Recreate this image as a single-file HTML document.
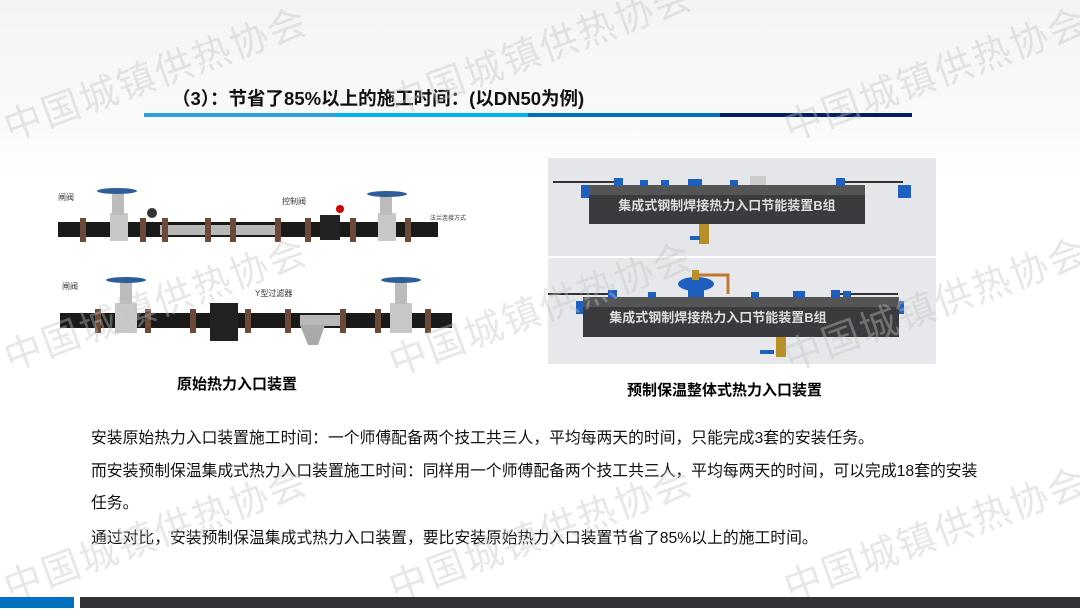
<!DOCTYPE html>
<html><head><meta charset="utf-8"><style>
*{margin:0;padding:0;box-sizing:border-box}
body{width:1080px;height:608px;overflow:hidden;background:#fff;position:relative;font-family:"Liberation Sans","Noto Sans CJK SC",sans-serif}
.abs{position:absolute}
.wm{position:absolute;color:rgba(195,195,195,0.4);font-size:38px;transform:rotate(-20deg);white-space:nowrap;transform-origin:left top;letter-spacing:2px}
.p{position:absolute;left:91px;font-size:15.8px;color:#111;white-space:nowrap}
.cap{position:absolute;font-size:15px;font-weight:bold;color:#000;white-space:nowrap}
</style></head><body>
<div class="abs" style="left:0;top:0;width:1080px;height:180px;background:linear-gradient(#f4f4f4,#fafafa 70%,#fff)"></div>

<div class="abs" style="left:172px;top:85px;font-size:18.5px;font-weight:bold;color:#111;white-space:nowrap">（3）：节省了85%以上的施工时间：(以DN50为例)</div>
<div class="abs" style="left:144px;top:113px;width:192px;height:4px;background:#2aa0dc"></div>
<div class="abs" style="left:336px;top:113px;width:192px;height:4px;background:#00b0f0"></div>
<div class="abs" style="left:528px;top:113px;width:192px;height:4px;background:#0070c0"></div>
<div class="abs" style="left:720px;top:113px;width:192px;height:4px;background:#002060"></div>

<!-- left image -->
<svg class="abs" style="left:50px;top:175px" width="430" height="180">
<g>
<rect x="8" y="47" width="380" height="15" fill="#1a1a1a"/>
<rect x="110" y="50" width="120" height="10" fill="#b8b8b8"/>
<rect x="60" y="38" width="18" height="28" fill="#c8c8c8"/>
<rect x="328" y="38" width="18" height="28" fill="#c8c8c8"/>
<rect x="270" y="40" width="20" height="25" fill="#222"/>
<rect x="62" y="18" width="12" height="22" fill="#bbb"/>
<rect x="330" y="18" width="12" height="22" fill="#bbb"/>
<ellipse cx="67" cy="16" rx="20" ry="3" fill="#2e5d9a"/>
<ellipse cx="337" cy="19" rx="20" ry="3" fill="#2e5d9a"/>
<circle cx="290" cy="34" r="4" fill="#c00"/>
<circle cx="102" cy="38" r="5" fill="#333"/>
<g fill="#6b4a3a"><rect x="30" y="43" width="6" height="24"/><rect x="90" y="43" width="6" height="24"/><rect x="112" y="43" width="6" height="24"/><rect x="155" y="43" width="6" height="24"/><rect x="180" y="43" width="6" height="24"/><rect x="225" y="43" width="6" height="24"/><rect x="255" y="43" width="6" height="24"/><rect x="300" y="43" width="6" height="24"/><rect x="355" y="43" width="6" height="24"/></g>
<text x="8" y="25" font-size="8" fill="#333">闸阀</text>
<text x="232" y="29" font-size="8" fill="#333">控制阀</text>
<text x="380" y="45" font-size="6" fill="#333">法兰连接方式</text>
</g>
<g>
<rect x="10" y="138" width="392" height="15" fill="#1a1a1a"/>
<rect x="250" y="140" width="40" height="11" fill="#b8b8b8"/>
<rect x="65" y="128" width="22" height="30" fill="#c8c8c8"/>
<rect x="340" y="128" width="22" height="30" fill="#c8c8c8"/>
<rect x="160" y="128" width="28" height="38" fill="#222"/>
<rect x="70" y="107" width="12" height="22" fill="#bbb"/>
<rect x="345" y="107" width="12" height="22" fill="#bbb"/>
<ellipse cx="76" cy="105" rx="20" ry="3" fill="#2e5d9a"/>
<ellipse cx="351" cy="105" rx="20" ry="3" fill="#2e5d9a"/>
<polygon points="250,150 275,150 268,170 258,170" fill="#aaa"/>
<g fill="#6b4a3a"><rect x="45" y="134" width="6" height="24"/><rect x="95" y="134" width="6" height="24"/><rect x="140" y="134" width="6" height="24"/><rect x="195" y="134" width="6" height="24"/><rect x="235" y="134" width="6" height="24"/><rect x="290" y="134" width="6" height="24"/><rect x="325" y="134" width="6" height="24"/><rect x="375" y="134" width="6" height="24"/></g>
<text x="12" y="114" font-size="8" fill="#333">闸阀</text>
<text x="205" y="121" font-size="8" fill="#333">Y型过滤器</text>
</g>
</svg>

<!-- right image -->
<svg class="abs" style="left:548px;top:158px" width="388" height="206">
<rect x="0" y="0" width="388" height="98" fill="#e4e6ea"/>
<rect x="0" y="100" width="388" height="106" fill="#e6e8ec"/>
<rect x="33" y="27" width="13" height="13" fill="#1f5fbf"/>
<rect x="350" y="27" width="13" height="13" fill="#1f5fbf"/>
<rect x="41" y="27" width="276" height="39" fill="#3a3b3e"/>
<rect x="41" y="27" width="276" height="10" fill="#555"/>
<line x1="5" y1="24" x2="70" y2="24" stroke="#333" stroke-width="2"/>
<line x1="290" y1="24" x2="355" y2="24" stroke="#333" stroke-width="2"/>
<g fill="#1f5fbf"><rect x="66" y="20" width="9" height="8"/><rect x="92" y="22" width="8" height="6"/><rect x="113" y="22" width="8" height="6"/><rect x="140" y="21" width="14" height="7"/><rect x="182" y="22" width="8" height="6"/><rect x="288" y="20" width="9" height="8"/></g>
<rect x="202" y="18" width="16" height="9" fill="#ccc"/>
<rect x="151" y="66" width="10" height="20" fill="#b8902a"/>
<rect x="142" y="78" width="10" height="4" fill="#1f5fbf"/>
<text x="179" y="52" font-size="13" font-weight="bold" fill="#ddd" text-anchor="middle">集成式钢制焊接热力入口节能装置B组</text>
<rect x="28" y="143" width="13" height="13" fill="#1f5fbf"/>
<rect x="343" y="143" width="13" height="13" fill="#1f5fbf"/>
<rect x="35" y="139" width="316" height="40" fill="#3a3b3e"/>
<rect x="35" y="139" width="316" height="10" fill="#555"/>
<line x1="0" y1="136" x2="65" y2="136" stroke="#333" stroke-width="2"/>
<line x1="285" y1="136" x2="350" y2="136" stroke="#333" stroke-width="2"/>
<ellipse cx="148" cy="126" rx="18" ry="7" fill="#1f5fbf"/>
<rect x="140" y="126" width="16" height="13" fill="#1f5fbf"/>
<rect x="144" y="112" width="7" height="10" fill="#b8902a"/>
<path d="M150 117 H180 V136" stroke="#c07a30" stroke-width="3" fill="none"/>
<g fill="#1f5fbf"><rect x="60" y="132" width="9" height="8"/><rect x="100" y="134" width="8" height="6"/><rect x="203" y="134" width="8" height="6"/><rect x="245" y="133" width="12" height="7"/><rect x="295" y="133" width="8" height="6"/><rect x="283" y="132" width="9" height="8"/></g>
<rect x="228" y="179" width="10" height="20" fill="#b8902a"/>
<rect x="212" y="192" width="14" height="4" fill="#1f5fbf"/>
<text x="170" y="164" font-size="13" font-weight="bold" fill="#ddd" text-anchor="middle">集成式钢制焊接热力入口节能装置B组</text>
</svg>

<div class="cap" style="left:177px;top:373px">原始热力入口装置</div>
<div class="cap" style="left:627px;top:379px">预制保温整体式热力入口装置</div>

<div class="p" style="top:425px">安装原始热力入口装置施工时间：一个师傅配备两个技工共三人，平均每两天的时间，只能完成3套的安装任务。</div>
<div class="p" style="top:458px">而安装预制保温集成式热力入口装置施工时间：同样用一个师傅配备两个技工共三人，平均每两天的时间，可以完成18套的安装</div>
<div class="p" style="top:490px">任务。</div>
<div class="p" style="top:525px">通过对比，安装预制保温集成式热力入口装置，要比安装原始热力入口装置节省了85%以上的施工时间。</div>

<div class="wm" style="left:-5px;top:100px">中国城镇供热协会</div>
<div class="wm" style="left:380px;top:75px">中国城镇供热协会</div>
<div class="wm" style="left:775px;top:100px">中国城镇供热协会</div>
<div class="wm" style="left:-5px;top:330px">中国城镇供热协会</div>
<div class="wm" style="left:380px;top:335px">中国城镇供热协会</div>
<div class="wm" style="left:775px;top:330px">中国城镇供热协会</div>
<div class="wm" style="left:-5px;top:560px">中国城镇供热协会</div>
<div class="wm" style="left:380px;top:560px">中国城镇供热协会</div>
<div class="wm" style="left:775px;top:560px">中国城镇供热协会</div>

<div class="abs" style="left:0;top:597px;width:74px;height:11px;background:#0070c0"></div>
<div class="abs" style="left:80px;top:597px;width:1000px;height:11px;background:#333236"></div>
</body></html>
